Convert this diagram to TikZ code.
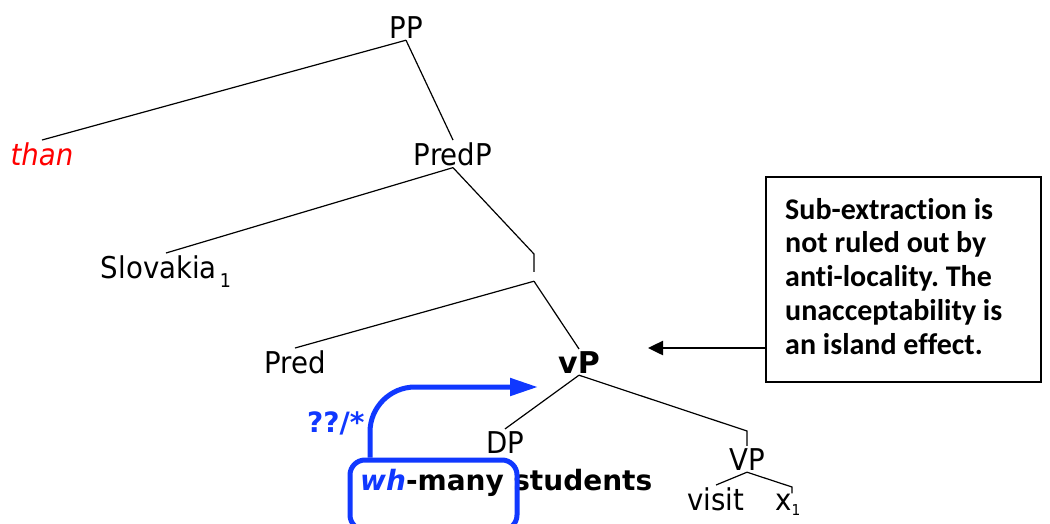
\documentclass[tikz,border=0pt]{standalone}
\usepackage{fontspec}
\usetikzlibrary{arrows.meta}
\newfontfamily\treefont[FakeStretch=0.92]{DejaVu Sans}
\newfontfamily\heavyfont{DejaVu Sans}
\newfontfamily\notefont[Ligatures={NoCommon}]{Carlito}
\definecolor{movblue}{RGB}{16,56,255}
\frenchspacing
\tikzset{
  lbl/.style={inner sep=2pt, anchor=base, font=\treefont\fontsize{30}{36}\selectfont},
  hvy/.style={inner sep=0pt, anchor=base west, font=\heavyfont\bfseries\fontsize{28}{34}\selectfont},
  branch/.style={line width=1.2pt},
}
\begin{document}
\begin{tikzpicture}[x=1pt,y=-1pt]
    \useasboundingbox (0,0) rectangle (1050,523);
    
    \node[lbl] (PP) at (406,38) {PP};
    \node[lbl,text=red] (than) at (42,165) {\itshape than};
    \node[lbl] (PredP) at (453,165) {PredP};
    \node[lbl] (Slovakia) at (166,278) {Slovakia\hspace{3pt}\raisebox{-9pt}{\fontsize{19}{19}\selectfont 1}};
    \node[minimum height=9pt,inner sep=0pt] (Bar) at (534,276.5) {};
    \coordinate (Bar-t) at (534,254);
    \node[lbl] (Pred) at (295,373) {Pred};
    \node[lbl,font=\heavyfont\bfseries\fontsize{30}{36}\selectfont] (vP) at (579,373) {vP};
    \node[lbl] (DP) at (505,453) {DP};
    \node[lbl] (VP) at (747,470) {VP};
    \coordinate (VP-t) at (747,431);
    \node[lbl] (visit) at (716,510) {visit};
    \node[lbl,anchor=base west,inner sep=0pt] (x1) at (775,510) {x\raisebox{-5pt}{\fontsize{15}{15}\selectfont 1}};
    \coordinate (x-t) at (792,487);
    
    \draw[branch] (PP.south) -- (than.north);
    \draw[branch] (PP.south) -- (PredP.north);
    \draw[branch] (PredP.south) -- (Slovakia.north);
    \draw[branch] (PredP.south) -- (Bar-t) -- (Bar.north);
    \draw[branch] (Bar.south) -- (Pred.north);
    \draw[branch] (Bar.south) -- (vP.north);
    \draw[branch] (vP.south) -- (DP.north);
    \draw[branch] (vP.south) -- (VP-t) -- (VP.north);
    \draw[branch] (VP.south) -- (visit.north);
    \draw[branch] (VP.south) -- (x-t) -- (x-t |- x1.north);
    
    % moved phrase
    \node[hvy] (whmany) at (360,490) {\textcolor{movblue}{\itshape wh}-many};
    \node[hvy] (students) at ([xshift=9pt]whmany.base east) {students};
    \node[draw=movblue,line width=5pt,rounded corners=15pt,minimum width=167pt,minimum height=70pt,anchor=north west] (Box) at (347.5,457.5) {};
    \node[hvy,text=movblue] (mark) at (307,432) {??/*};
    \coordinate (vP-l) at (538,387);
    \draw[movblue,line width=5pt,rounded corners=45pt,-{Triangle[length=28pt,width=17pt]}] ([xshift=22.5pt]Box.north west) |- (vP-l);
    
    % comment box
    \node[draw,line width=2pt,minimum width=275pt,minimum height=205pt,anchor=north west] (note) at (765,176) {};
    \node[anchor=north west,inner sep=0pt,align=left,font=\notefont\bfseries\fontsize{30}{33.7}\selectfont] (notetxt) at (785,198) {Sub-extraction is\\not ruled out by\\anti-locality. The\\unacceptability is\\an island effect.};
    \coordinate (vP-r) at (648,348);
    \draw[line width=2.5pt,-{Triangle[length=15pt,width=14pt]}] (note.west |- vP-r) -- (vP-r);
    
\end{tikzpicture}
\end{document}
